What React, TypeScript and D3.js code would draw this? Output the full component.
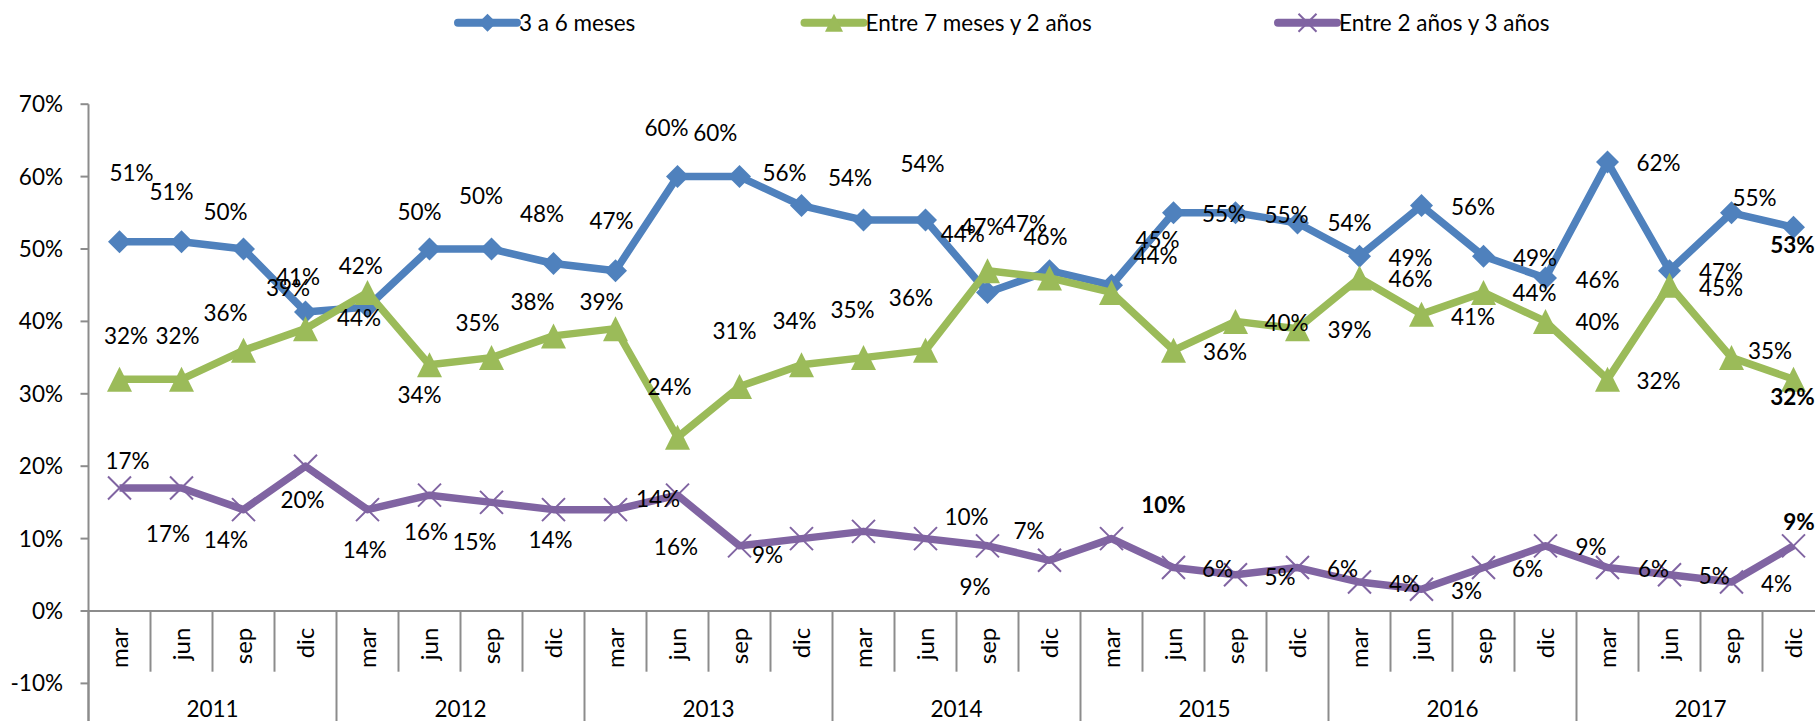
import React from "react";
import * as d3 from "d3";

// ---------- data ----------
const years = ["2011", "2012", "2013", "2014", "2015", "2016", "2017"];
const months = ["mar", "jun", "sep", "dic"];
const seriesNames = ["3 a 6 meses", "Entre 7 meses y 2 años", "Entre 2 años y 3 años"];
const yTicks = [-0.1, 0, 0.1, 0.2, 0.3, 0.4, 0.5, 0.6, 0.7];

// 3 a 6 meses (%)
const valuesShort = [51, 51, 50, 41.3, 42, 50, 50, 48, 47, 60, 60, 56, 54, 54, 44, 47, 45, 55, 55, 53.6, 49, 56, 49, 46, 62, 47, 55, 53];
// Entre 7 meses y 2 años (%)
const valuesMid = [32, 32, 36, 39, 44, 34, 35, 38, 39, 24, 31, 34, 35, 36, 47, 46, 44, 36, 40, 39, 46, 41, 44, 40, 32, 45, 35, 32];
// Entre 2 años y 3 años (%)
const valuesLong = [17, 17, 14, 20, 14, 16, 15, 14, 14, 16, 9, 10, 11, 10, 9, 7, 10, 6, 5, 6, 4, 3, 6, 9, 6, 5, 4, 9];

// ---------- label layout (offset of label centre from its point, px) ----------
const labelOffsetsShort: ([number, number] | null)[] = [
  [12, -69], [-10, -49.5], [-18, -37], [-7.5, -35.3], [-6.8, -41], [-10, -37.3], [-10.5, -53], [-11.5, -49.5],
  [-4, -50], [-11, -48.6], [-24.3, -44], [-17, -33], [-13.5, -42.3], [-3, -56], [-24.8, -58.4], [-24.6, -46.7],
  [46, -45], [50.5, 1], [51, 2], [52, 0.5], [51, 2], [51.5, 1], [51.5, 2], [52, 2], [51, 1], [51.5, 1], [23, -14.5], [-1, 18],
];
const labelOffsetsMid: ([number, number] | null)[] = [
  [6.5, -43], [-4, -43], [-18, -37.4], [-17.5, -40.6], [-8.5, 25.6], [-10, 30], [-14, -34.6], [-21, -34],
  [-14, -27], [-8, -50], [-5, -56], [-7, -44], [-11, -48], [-14.6, -52], [-5, -44], [-4, -41],
  [44, -36], [51.5, 2], [51, 2], [52, 1.5], [51, 1], [51.5, 2.5], [51, 1], [52, 1], [51, 2], [51.5, 3], [38.5, -7], [-1, 18],
];
const labelOffsetsLong: ([number, number] | null)[] = [
  [8, -27], [-13.6, 46], [-17.6, 30], [-3, 34], [-2.7, 40], [-3.4, 36.5], [-17, 40], [-3, 30],
  [42.5, -11], [-1.6, 51.5], [28, 9], null, null, [41, -22], [-12.5, 41.5], [-20.5, -29.6],
  [52, -33.6], [44, 1.7], [44.5, 2], [45, 1.7], [45, 2], [45, 1.4], [44, 1.7], [45.5, 1.5], [46, 1.7], [44.7, 1.2], [45, 2], [5.5, -24],
];
const boldShort = [27];
const boldMid = [27];
const boldLong = [16, 27];

// ---------- layout ----------
const W = 1815;
const H = 721;
const FONT = "Lato, 'Open Sans', sans-serif";
const FS = 22.5;
const AXIS = "#8c8c8c";
const COLORS = ["#4F81BD", "#9BBB59", "#8064A2"];

const categories = years.flatMap((y) => months.map((m) => `${m}-${y}`));

const x = d3.scaleBand<string>().domain(categories).range([88.5, 88.5 + 62 * categories.length]).padding(0);
const y = d3.scaleLinear().domain([-0.1, 0.7]).range([683.4, 104.2]);
const cx = (i: number) => (x(categories[i]) as number) + x.bandwidth() / 2;
const pct = (v: number) => d3.format(".0%")(v).replace("\u2212", "-");

type Marker = "diamond" | "triangle" | "x";

function markerPath(kind: Marker, s: number): string {
  const h = s / 2;
  if (kind === "diamond") return `M0,${-h}L${h},0L0,${h}L${-h},0Z`;
  if (kind === "triangle") return `M0,${-h}L${h},${h}L${-h},${h}Z`;
  return `M${-h},${-h}L${h},${h}M${-h},${h}L${h},${-h}`;
}

function MarkerShape({ kind, px, py, color, size }: { kind: Marker; px: number; py: number; color: string; size: number }) {
  if (kind === "x") {
    return <path d={markerPath(kind, size)} transform={`translate(${px},${py})`} fill="none" stroke={color} strokeWidth={2} />;
  }
  return <path d={markerPath(kind, size)} transform={`translate(${px},${py})`} fill={color} stroke="none" />;
}

const series = [
  { name: seriesNames[0], values: valuesShort, offsets: labelOffsetsShort, bold: boldShort, color: COLORS[0], marker: "diamond" as Marker, size: 23, legendX: 458 },
  { name: seriesNames[1], values: valuesMid, offsets: labelOffsetsMid, bold: boldMid, color: COLORS[1], marker: "triangle" as Marker, size: 25, legendX: 804.5 },
  { name: seriesNames[2], values: valuesLong, offsets: labelOffsetsLong, bold: boldLong, color: COLORS[2], marker: "x" as Marker, size: 23, legendX: 1278 },
];

export default function App() {
  const line = d3
    .line<number>()
    .x((_, i) => cx(i))
    .y((v) => y(v / 100));

  const plotLeft = x.range()[0];

  return (
    <svg
      width={W}
      height={H}
      style={{ position: "absolute", left: 0, top: 0, background: "#fff" }}
      fontFamily={FONT}
      fontSize={FS}
    >
      <rect width={W} height={H} fill="#fff" />

      {/* Legend */}
      {series.map((s) => (
        <g key={s.name}>
          <line x1={s.legendX} x2={s.legendX + 59} y1={22.7} y2={22.7} stroke={s.color} strokeWidth={8} strokeLinecap="round" />
          <MarkerShape kind={s.marker} px={s.legendX + 29.5} py={22.7} color={s.color} size={18} />
          <text x={s.legendX + 61} y={22.7 + 8} fill="#000">
            {s.name}
          </text>
        </g>
      ))}

      {/* Y axis */}
      <line x1={plotLeft} x2={plotLeft} y1={y(0.7)} y2={H} stroke={AXIS} strokeWidth={2} />
      {yTicks.map((t) => (
        <g key={t}>
          <line x1={plotLeft - 8} x2={plotLeft} y1={y(t)} y2={y(t)} stroke={AXIS} strokeWidth={2} />
          <text x={63} y={y(t) + 8} textAnchor="end" fill="#000">
            {pct(t)}
          </text>
        </g>
      ))}

      {/* Category axis */}
      <line x1={plotLeft} x2={W} y1={y(0)} y2={y(0)} stroke={AXIS} strokeWidth={2} />
      {categories.map((c, i) => {
        const bx = x(c) as number;
        const yearEdge = i % months.length === 0;
        return (
          <line
            key={`d-${c}`}
            x1={bx}
            x2={bx}
            y1={y(0)}
            y2={yearEdge ? H : 671.7}
            stroke={AXIS}
            strokeWidth={2}
          />
        );
      })}
      <line x1={x.range()[1]} x2={x.range()[1]} y1={y(0)} y2={H} stroke={AXIS} strokeWidth={2} />
      {categories.map((c, i) => (
        <text
          key={`m-${c}`}
          transform={`translate(${cx(i) + 8},${627.7}) rotate(-90)`}
          textAnchor="end"
          fill="#000"
          fontSize={24}
        >
          {months[i % months.length]}
        </text>
      ))}
      {years.map((yr, k) => {
        const a = x(categories[k * months.length]) as number;
        const b = a + x.bandwidth() * months.length;
        return (
          <text key={yr} x={(a + b) / 2} y={716.7} textAnchor="middle" fill="#000">
            {yr}
          </text>
        );
      })}

      {/* Series lines and markers */}
      {series.map((s) => (
        <g key={`s-${s.name}`}>
          <path d={line(s.values) || ""} fill="none" stroke={s.color} strokeWidth={7.5} strokeLinejoin="round" />
          {s.values.map((v, i) => (
            <MarkerShape key={i} kind={s.marker} px={cx(i)} py={y(v / 100)} color={s.color} size={s.size} />
          ))}
        </g>
      ))}

      {/* Data labels */}
      {series.map((s) => (
        <g key={`l-${s.name}`}>
          {s.values.map((v, i) => {
            const off = s.offsets[i];
            if (!off) return null;
            return (
              <text
                key={i}
                x={cx(i) + off[0]}
                y={y(v / 100) + off[1] + 8}
                textAnchor="middle"
                fill="#000"
                fontWeight={s.bold.includes(i) ? 700 : 400}
              >
                {pct(Math.round(v) / 100)}
              </text>
            );
          })}
        </g>
      ))}
    </svg>
  );
}
